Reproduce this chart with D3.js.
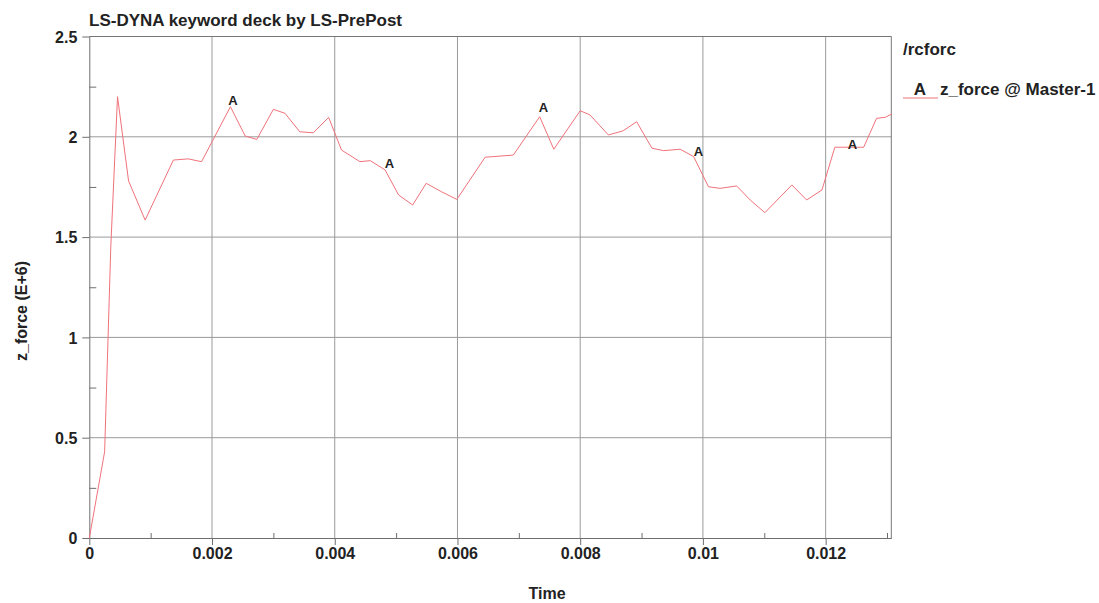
<!DOCTYPE html>
<html>
<head>
<meta charset="utf-8">
<script src="https://cdn.jsdelivr.net/npm/d3@7/dist/d3.min.js"></script>
<style>
  body { margin: 0; background: #fff; }
  text { font-family: "Liberation Sans", Arial, sans-serif; font-weight: bold; fill: #222; }
</style>
</head>
<body>
<svg id="chart" width="1099" height="603"></svg>
<script>
// time (s) and z_force (E+6)
const times = [0, 0.00025, 0.00035, 0.00046, 0.00064, 0.00091, 0.00137, 0.00161, 0.00183,
  0.0023, 0.00254, 0.00273, 0.0030, 0.00319, 0.00343, 0.00365, 0.0039, 0.00411, 0.00441,
  0.00458, 0.00482, 0.00504, 0.00527, 0.00549, 0.00574, 0.00599, 0.00645, 0.00691, 0.00734,
  0.00757, 0.0080, 0.00816, 0.00846, 0.0087, 0.00892, 0.00917, 0.00936, 0.00963, 0.00985,
  0.01009, 0.01028, 0.01055, 0.01077, 0.01101, 0.01145, 0.01169, 0.01194, 0.01215, 0.01262,
  0.01283, 0.01297, 0.01308];
const zForce = [0, 0.43, 1.45, 2.2, 1.78, 1.585, 1.884, 1.89, 1.876,
  2.15, 2.004, 1.987, 2.137, 2.117, 2.025, 2.02, 2.097, 1.934, 1.876,
  1.881, 1.835, 1.71, 1.66, 1.768, 1.726, 1.688, 1.898, 1.909, 2.1,
  1.938, 2.13, 2.109, 2.009, 2.03, 2.075, 1.943, 1.931, 1.938, 1.901,
  1.751, 1.743, 1.755, 1.685, 1.622, 1.76, 1.685, 1.735, 1.948, 1.948,
  2.092, 2.097, 2.114];

// "A" curve labels
const markerTimes = [0.002342, 0.004891, 0.007402, 0.009928, 0.012438];
const markerValues = [2.158, 1.844, 2.124, 1.904, 1.939];

const xTicks = [0, 0.002, 0.004, 0.006, 0.008, 0.01, 0.012];
const xTickLabels = ["0", "0.002", "0.004", "0.006", "0.008", "0.01", "0.012"];
const xMinor = [0.001, 0.003, 0.005, 0.007, 0.009, 0.011, 0.013];
const yTicks = [0, 0.5, 1, 1.5, 2, 2.5];
const yTickLabels = ["0", "0.5", "1", "1.5", "2", "2.5"];
const yMinor = [0.25, 0.75, 1.25, 1.75, 2.25];

const lineColor = "#f0727a";

const svg = d3.select("#chart");
const plotLeft = 89.3, plotRight = 891.3, plotTop = 36.5, plotBottom = 538;

const x = d3.scaleLinear().domain([0, 0.01307]).range([plotLeft, plotRight]);
const y = d3.scaleLinear().domain([0, 2.5]).range([plotBottom, plotTop]);

// grid
svg.append("g")
  .selectAll("line")
  .data(xTicks.slice(1))
  .join("line")
  .attr("x1", d => x(d)).attr("x2", d => x(d))
  .attr("y1", plotTop).attr("y2", plotBottom)
  .attr("stroke", "#9a9a9a").attr("stroke-width", 1);

svg.append("g")
  .selectAll("line")
  .data(yTicks.slice(1))
  .join("line")
  .attr("x1", plotLeft).attr("x2", plotRight)
  .attr("y1", d => y(d)).attr("y2", d => y(d))
  .attr("stroke", "#9a9a9a").attr("stroke-width", 1);

// frame: top and right
svg.append("line")
  .attr("x1", plotLeft).attr("x2", plotRight).attr("y1", plotTop).attr("y2", plotTop)
  .attr("stroke", "#777");
svg.append("line")
  .attr("x1", plotRight).attr("x2", plotRight).attr("y1", plotTop).attr("y2", plotBottom)
  .attr("stroke", "#777");

// axes
const xAxis = svg.append("g")
  .attr("transform", `translate(0,${plotBottom})`)
  .call(d3.axisBottom(x).tickValues(xTicks)
    .tickFormat((d, i) => xTickLabels[i]).tickSize(7).tickPadding(3).tickSizeOuter(0));
const yAxis = svg.append("g")
  .attr("transform", `translate(${plotLeft},0)`)
  .call(d3.axisLeft(y).tickValues(yTicks)
    .tickFormat((d, i) => yTickLabels[i]).tickSize(7).tickPadding(5).tickSizeOuter(0));

svg.append("g")
  .attr("transform", `translate(0,${plotBottom})`)
  .call(d3.axisTop(x).tickValues(xMinor).tickFormat("").tickSize(5).tickSizeOuter(0))
  .select(".domain").remove();
svg.append("g")
  .attr("transform", `translate(${plotLeft},0)`)
  .call(d3.axisRight(y).tickValues(yMinor).tickFormat("").tickSize(7).tickSizeOuter(0))
  .select(".domain").remove();

svg.selectAll(".domain, .tick line").attr("stroke", "#6f6f6f");
svg.selectAll(".tick text")
  .attr("font-size", 16)
  .attr("font-family", "'Liberation Sans', Arial, sans-serif")
  .attr("font-weight", "bold")
  .attr("fill", "#222");
yAxis.selectAll(".tick text").attr("dy", "0.36em");

// curve
const data = times.map((t, i) => ({ t, v: zForce[i] }));
svg.append("path")
  .datum(data)
  .attr("fill", "none")
  .attr("stroke", lineColor)
  .attr("stroke-width", 1)
  .attr("d", d3.line().x(d => x(d.t)).y(d => y(d.v)));

svg.append("g")
  .selectAll("text")
  .data(markerTimes)
  .join("text")
  .attr("x", d => x(d))
  .attr("y", (d, i) => y(markerValues[i]))
  .attr("text-anchor", "middle")
  .attr("font-size", 13)
  .text("A");

// titles
svg.append("text")
  .attr("x", 89).attr("y", 26)
  .attr("font-size", 17)
  .text("LS-DYNA keyword deck by LS-PrePost");

svg.append("text")
  .attr("x", 547).attr("y", 599)
  .attr("text-anchor", "middle")
  .attr("font-size", 16)
  .text("Time");

svg.append("text")
  .attr("transform", "translate(27,311) rotate(-90)")
  .attr("text-anchor", "middle")
  .attr("font-size", 16)
  .text("z_force (E+6)");

// legend
svg.append("text")
  .attr("x", 903).attr("y", 55)
  .attr("font-size", 17)
  .text("/rcforc");

svg.append("line")
  .attr("x1", 903).attr("x2", 938).attr("y1", 98).attr("y2", 98)
  .attr("stroke", lineColor);
svg.append("text")
  .attr("x", 920).attr("y", 95)
  .attr("text-anchor", "middle")
  .attr("font-size", 17)
  .text("A");
svg.append("text")
  .attr("x", 940).attr("y", 95)
  .attr("font-size", 17)
  .text("z_force @ Master-1");
</script>
</body>
</html>
